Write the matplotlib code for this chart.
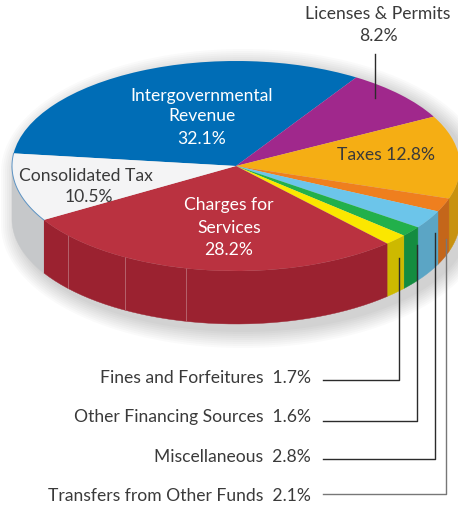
import numpy as np
import matplotlib
matplotlib.use("Agg")
import matplotlib.pyplot as plt
from matplotlib.patches import Polygon

plt.rcParams['font.family'] = ['Lato', 'Liberation Sans', 'DejaVu Sans']

# slices, clockwise from the left of the pie
names = ['Intergovernmental Revenue', 'Licenses & Permits', 'Taxes',
         'Transfers from Other Funds', 'Miscellaneous', 'Other Financing Sources',
         'Fines and Forfeitures', 'Charges for Services', 'Consolidated Tax']
values = [32.1, 8.2, 12.8, 2.1, 2.8, 1.6, 1.7, 28.2, 10.5]
top_colors = ['#006DB6', '#A0288C', '#F5AE14', '#EF7F1E', '#6CC5EA',
              '#22B04B', '#FBE700', '#BA3240', '#F4F4F5']
side_colors = ['#005A96', '#7E1F6E', '#C8920F', '#C4661A', '#5BA5C5',
               '#148C40', '#CDB900', '#9B2230', '#C6C8CA']

W, H = 458, 508
cx, cy = 236, 166     # pie centre in pixels
rx, ry = 224, 105     # ellipse radii
depth = 53 / ry       # wall height, in pie units
start = 173.1

fig = plt.figure(figsize=(W / 100, H / 100), dpi=100)
ax = fig.add_axes([0, 0, 1, 1])


def ring(t):
    t = np.radians(t)
    return np.cos(t), np.sin(t)


def pix(x, y):
    # pixel position (origin top left) to axes fraction
    return x / W, 1 - y / H


# soft shadow under the pie, built from stacked outlines
t_up = np.linspace(0, 180, 120)
t_down = np.linspace(180, 360, 120)
for g in np.arange(18, 0, -2):
    gx, gy = 1 + g / rx, 1 + g / ry
    up = np.column_stack([gx * ring(t_up)[0] + 7 / rx, gy * ring(t_up)[1] - 6 / ry])
    down = np.column_stack([gx * ring(t_down)[0] + 7 / rx,
                            gy * ring(t_down)[1] - 6 / ry - depth])
    ax.add_patch(Polygon(np.vstack([up, down]), fc='black', ec='none',
                         alpha=0.02, zorder=1))

# front wall, one piece per slice (only the part facing the viewer)
edges = start - np.cumsum([0] + values) * 3.6
for i in range(len(values)):
    a, b = max(edges[i + 1], -180), min(edges[i], 0)
    if b <= a:
        continue
    t = np.linspace(b, a, 40)
    x, y = ring(t)
    pts = np.vstack([np.column_stack([x, y]),
                     np.column_stack([x, y - depth])[::-1]])
    ax.add_patch(Polygon(pts, fc=side_colors[i], ec=side_colors[i], lw=0.3, zorder=2))

# light seams on the red wall
for t in [-138.6, -119.7, -102.9]:
    x, y = ring(t)
    ax.plot([x, x], [y, y - depth], color='#B5636C', lw=0.7, zorder=3)

# the top face
ax.pie(values, colors=top_colors, startangle=start, counterclock=False, radius=1,
       wedgeprops={'linewidth': 0, 'zorder': 4})

# thin blue edge along the left rim
x, y = ring(np.linspace(edges[8], edges[9], 40))
ax.plot(x, y, color='#5C93C4', lw=0.7, zorder=5)

ax.set_aspect('auto')
ax.set_xlim(-cx / rx, (W - cx) / rx)
ax.set_ylim(-(H - cy) / ry, cy / ry)
ax.axis('off')

text_color = '#3A3A3A'
fs = 12.6


def label(x, y, s, color=text_color, ha='center'):
    fx, fy = pix(x, y)
    ax.text(fx, fy, s, transform=ax.transAxes, ha=ha, va='center', color=color,
            fontsize=fs, zorder=8)


# labels on and above the pie
label(202, 96, 'Intergovernmental', 'white')
label(202, 116, 'Revenue', 'white')
label(202, 139, f'{values[0]}%', 'white')
label(378, 14, names[1])
label(378, 36, f'{values[1]}%')
label(386, 155, f'{names[2]} {values[2]}%')
label(86, 176, names[8])
label(89, 197, f'{values[8]}%')
label(229, 205, 'Charges for', 'white')
label(229, 228, 'Services', 'white')
label(229, 250, f'{values[7]}%', 'white')

# leader-lined small slices below the pie
rows = [6, 5, 4, 3]
text_y = [378, 417, 457, 496]
row_y = [380, 421, 459, 494]
line_x = [399, 417, 435, 446]
line_top = [258, 245, 233, 239]
line_col = ['#2B2B2B', '#2B2B2B', '#2B2B2B', '#777777']
for i, ty, ly, lx, top, col in zip(rows, text_y, row_y, line_x, line_top, line_col):
    label(311, ty, f'{names[i]}  {values[i]}%', ha='right')
    fx, fy = zip(pix(323, ly), pix(lx, ly), pix(lx, top))
    ax.plot(fx, fy, transform=ax.transAxes, color=col, lw=1.0, zorder=7, clip_on=False)

fx, fy = zip(pix(375, 54), pix(375, 98))
ax.plot(fx, fy, transform=ax.transAxes, color='#2B2B2B', lw=1.0, zorder=7)

fig.savefig('out.png', dpi=100, facecolor='white')
plt.close()
